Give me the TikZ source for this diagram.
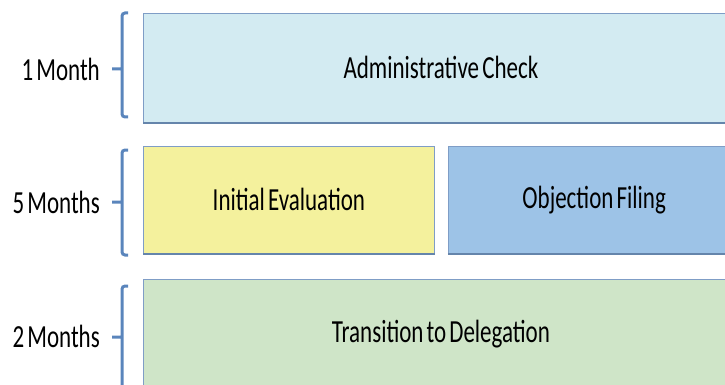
\documentclass[tikz,border=0pt]{standalone}
\usepackage{fontspec}
\setmainfont[WordSpace=0.6]{Carlito}
\usetikzlibrary{positioning}
\definecolor{rimblue}{HTML}{7F9DC6}
\definecolor{shadeblue}{HTML}{6585AB}
\definecolor{bracecol}{HTML}{5A85BC}
\definecolor{adminfill}{HTML}{D3EBF2}
\definecolor{evalfill}{HTML}{F4F19D}
\definecolor{objfill}{HTML}{9DC3E7}
\definecolor{transfill}{HTML}{CFE5C8}
\newcommand{\tall}[1]{\scalebox{1}[1.4]{#1}}
\tikzset{
	phase/.style={draw=rimblue,line width=0.8pt,anchor=north west,inner sep=0pt,
		font=\fontsize{23}{24}\selectfont},
	under/.style={draw=shadeblue,line width=2.2pt},
	brace/.style={draw=bracecol,line width=3pt,rounded corners=3pt},
	span/.style={anchor=east,inner sep=0pt,font=\fontsize{23}{24}\selectfont}
}
\begin{document}
\begin{tikzpicture}[x=1pt,y=-1pt]
	\useasboundingbox (0,0) rectangle (725,385);
	\clip (0,0) rectangle (725,385);
	\node[phase,fill=adminfill,minimum width=595pt,minimum height=109pt] (admin) at (143,13) {\tall{Administrative Check}};
	\node[phase,fill=evalfill,minimum width=291pt,minimum height=107pt] (evalu) at (143,146) {\tall{Initial Evaluation}};
	\node[phase,fill=objfill,minimum width=292pt,minimum height=107pt,right=13pt of evalu.north east,anchor=north west] (objec) {\tall{Objection Filing}};
	\node[phase,fill=transfill,minimum width=595pt,minimum height=110pt] (trans) at (143,279) {\tall{Transition to Delegation}};
	\draw[under] (admin.south west) -- (admin.south east)
				 (evalu.south west) -- (evalu.south east)
				 (objec.south west) -- (objec.south east);
	\path 	(122,69)  coordinate (B1) (122,202) coordinate (B2) (122,337) coordinate (B3);
	\draw[brace] (128,13)  -- (122,13)  -- (122,117) -- (128,117) (B1) -- +(-10,0);
	\draw[brace] (128,150) -- (122,150) -- (122,255) -- (128,255) (B2) -- +(-10,0);
	\draw[brace] (128,286) -- (122,286) -- (122,392) (B3) -- +(-10,0);
	\node[span] (m1) at (100,69)  {\tall{1 Month}};
	\node[span] (m5) at (100,202) {\tall{5 Months}};
	\node[span] (m2) at (100,336) {\tall{2 Months}};
\end{tikzpicture}
\end{document}
